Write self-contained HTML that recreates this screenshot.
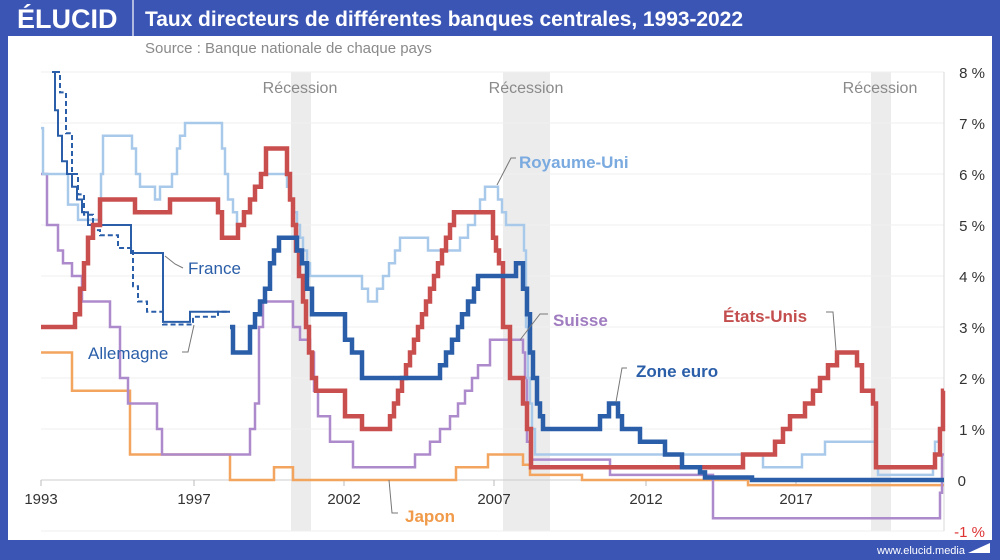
<!DOCTYPE html>
<html><head><meta charset="utf-8">
<style>
html,body{margin:0;padding:0;background:#3b55b5;}
body{width:1000px;height:560px;overflow:hidden;position:relative;font-family:"Liberation Sans",sans-serif;}
</style></head>
<body>
<svg width="1000" height="560" xmlns="http://www.w3.org/2000/svg" style="position:absolute;left:0;top:0">
<rect x="0" y="0" width="1000" height="560" fill="#3b55b5"/>
<rect x="8" y="36" width="984" height="504" fill="#ffffff"/>
<text x="17" y="28" fill="#fff" font-size="27" font-weight="bold" font-family="Liberation Sans,sans-serif">ÉLUCID</text>
<line x1="133" y1="0" x2="133" y2="36" stroke="#ffffff" stroke-width="1.5" opacity="0.8"/>
<text x="145" y="26" fill="#fff" font-size="21" font-weight="bold" textLength="598" font-family="Liberation Sans,sans-serif">Taux directeurs de différentes banques centrales, 1993-2022</text>
<text x="145" y="53" fill="#8a8a8a" font-size="15" font-family="Liberation Sans,sans-serif">Source : Banque nationale de chaque pays</text>
<text x="965" y="554" fill="#fff" font-size="11" text-anchor="end" font-family="Liberation Sans,sans-serif">www.elucid.media</text>
<polygon points="968,553 990,543 990,553" fill="#fff"/>
<rect x="291" y="72" width="20" height="459" fill="#ececec"/>
<rect x="503" y="72" width="47" height="459" fill="#ececec"/>
<rect x="871" y="72" width="20" height="459" fill="#ececec"/>
<g font-size="16" fill="#8a8a8a" text-anchor="middle" font-family="Liberation Sans,sans-serif">
<text x="300" y="93">Récession</text><text x="526" y="93">Récession</text><text x="880" y="93">Récession</text>
</g>
<g id="grid" stroke="#efefef" stroke-width="1"></g>
<line x1="41" y1="480" x2="944" y2="480" stroke="#cccccc"/>
<line x1="944" y1="72" x2="944" y2="531" stroke="#d8d8d8"/>
<g id="ticks" stroke="#bbb"></g>
<g font-size="15" fill="#333" text-anchor="middle" font-family="Liberation Sans,sans-serif">
<text x="41" y="504">1993</text><text x="194" y="504">1997</text><text x="344" y="504">2002</text><text x="494" y="504">2007</text><text x="646" y="504">2012</text><text x="796" y="504">2017</text>
</g>
<g id="ylab" font-size="15" fill="#333" text-anchor="end" font-family="Liberation Sans,sans-serif"></g>
<g id="series" fill="none" stroke-linejoin="miter"></g>
<g stroke="#777" stroke-width="1" fill="none">
<polyline points="516,158 511,158 497,185"/>
<polyline points="183,268 175,264 165,256"/>
<polyline points="182,352 188,352 194,325"/>
<polyline points="548,314 540,314 520,340"/>
<polyline points="826,312 833,312 836,350"/>
<polyline points="627,368 622,368 616,402"/>
<polyline points="398,513 392,513 389,480"/>
</g>
<g font-size="17" font-family="Liberation Sans,sans-serif">
<text x="519" y="168" fill="#7aaadf" font-weight="bold">Royaume-Uni</text>
<text x="188" y="274" fill="#2a5ea8">France</text>
<text x="88" y="359" fill="#2a5ea8">Allemagne</text>
<text x="553" y="326" fill="#a07cc0" font-weight="bold">Suisse</text>
<text x="723" y="322" fill="#c44e4e" font-weight="bold">États-Unis</text>
<text x="636" y="377" fill="#2a5ea8" font-weight="bold">Zone euro</text>
<text x="405" y="522" fill="#f09a4a" font-weight="bold">Japon</text>
</g>
</svg>
<script>
const NS="http://www.w3.org/2000/svg";
const Y=r=>480-51*r;
const g=document.getElementById('grid'),yl=document.getElementById('ylab'),tk=document.getElementById('ticks');
for(let r=-1;r<=8;r++){
 if(r!==0){const l=document.createElementNS(NS,'line');l.setAttribute('x1',41);l.setAttribute('x2',944);l.setAttribute('y1',Y(r));l.setAttribute('y2',Y(r));g.appendChild(l);}
 const t=document.createElementNS(NS,'text');t.setAttribute('x',985);t.setAttribute('y',Y(r)+6);
 t.textContent=r===0?'0':(r+' %');if(r===-1)t.setAttribute('fill','#d33');if(r===0)t.setAttribute('x',966);
 yl.appendChild(t);
}
[41,194,344,494,646,796].forEach(x=>{const l=document.createElementNS(NS,'line');l.setAttribute('x1',x);l.setAttribute('x2',x);l.setAttribute('y1',480);l.setAttribute('y2',486);tk.appendChild(l);});
function step(pts,end){let d='';for(let i=0;i<pts.length;i++){const [x,r]=pts[i];const y=Math.max(72,Y(r));if(i===0)d+='M'+x+' '+y;else d+='H'+x+'V'+y;}d+='H'+end;return d;}
function add(pts,end,color,w,dash){const p=document.createElementNS(NS,'path');p.setAttribute('d',step(pts,end));p.setAttribute('stroke',color);p.setAttribute('stroke-width',w);if(dash)p.setAttribute('stroke-dasharray',dash);document.getElementById('series').appendChild(p);}
const uk=[[41,6.9],[43,6.0],[68,5.4],[78,5.1],[101,6.0],[103,6.75],[132,6.5],[136,6.0],[140,5.75],[155,5.5],[160,5.75],[172,6.0],[177,6.5],[180,6.75],[185,7.0],[222,6.5],[225,6.0],[228,5.5],[233,5.25],[237,5.0],[243,5.25],[250,5.5],[255,5.75],[260,6.0],[287,5.75],[290,5.5],[293,5.25],[297,5.0],[300,4.75],[303,4.5],[307,4.25],[310,4.0],[362,3.75],[368,3.5],[377,3.75],[383,4.0],[389,4.25],[395,4.5],[400,4.75],[428,4.5],[460,4.75],[468,5.0],[475,5.25],[480,5.5],[485,5.75],[498,5.5],[502,5.25],[506,5.0],[524,4.5],[526,3.0],[528,2.0],[530,1.5],[532,1.0],[535,0.5],[763,0.25],[802,0.5],[825,0.75],[875,0.25],[878,0.1],[933,0.25],[935,0.75],[939,1.0],[942,1.25]];
const ch=[[41,6.0],[47,5.0],[58,4.5],[63,4.25],[72,4.0],[82,3.5],[110,3.0],[120,2.0],[128,1.5],[157,1.0],[162,0.5],[250,1.0],[255,1.5],[259,3.0],[263,3.5],[293,3.0],[300,2.75],[310,2.5],[314,1.75],[318,1.25],[330,0.75],[353,0.25],[415,0.5],[430,0.75],[440,1.0],[450,1.25],[458,1.5],[465,1.75],[472,2.0],[478,2.25],[490,2.75],[523,2.5],[525,2.0],[527,0.75],[530,0.4],[610,0.1],[713,-0.75],[940,-0.25],[942,0.5]];
const jp=[[41,2.5],[72,1.75],[130,0.5],[230,0.0],[274,0.25],[293,0.0],[456,0.25],[488,0.5],[523,0.3],[530,0.1],[582,0.0],[748,-0.1]];
const fr=[[52,8.5],[55,7.25],[58,6.75],[62,6.25],[67,6.0],[72,5.75],[77,5.5],[82,5.25],[88,5.0],[131,4.45],[163,3.1],[190,3.3],[230,3.3]];
const de=[[55,8.25],[60,7.6],[66,6.8],[72,6.0],[78,5.6],[84,5.2],[93,4.9],[100,4.8],[118,4.55],[133,3.8],[138,3.5],[147,3.3],[163,3.05],[193,3.2],[218,3.3],[230,3.3]];
const us=[[41,3.0],[75,3.25],[80,3.75],[84,4.25],[88,4.75],[93,5.0],[100,5.5],[135,5.25],[170,5.5],[218,5.25],[222,4.75],[238,5.0],[244,5.25],[250,5.5],[255,5.75],[261,6.0],[266,6.5],[287,6.0],[290,5.5],[293,5.0],[296,4.5],[299,4.0],[303,3.5],[306,3.0],[309,2.5],[312,2.0],[316,1.75],[345,1.25],[362,1.0],[390,1.25],[394,1.5],[398,1.75],[402,2.0],[406,2.25],[410,2.5],[414,2.75],[418,3.0],[422,3.25],[426,3.5],[430,3.75],[434,4.0],[438,4.25],[442,4.5],[446,4.75],[450,5.0],[454,5.25],[493,4.75],[496,4.5],[499,4.25],[503,3.0],[510,2.0],[523,1.5],[527,1.0],[531,0.25],[743,0.5],[775,0.75],[783,1.0],[790,1.25],[805,1.5],[813,1.75],[820,2.0],[828,2.25],[837,2.5],[857,2.25],[862,1.75],[873,1.5],[876,0.25],[935,0.5],[940,1.0],[943,1.75]];
const eu=[[230,3.0],[233,2.5],[250,3.0],[255,3.25],[260,3.5],[265,3.75],[270,4.25],[274,4.5],[279,4.75],[297,4.5],[302,4.25],[307,3.75],[312,3.25],[345,2.75],[352,2.5],[362,2.0],[440,2.25],[446,2.5],[452,2.75],[458,3.0],[462,3.25],[468,3.5],[474,3.75],[478,4.0],[516,4.25],[523,3.75],[527,3.25],[530,2.5],[533,2.0],[537,1.5],[540,1.25],[543,1.0],[600,1.25],[609,1.5],[618,1.25],[622,1.0],[640,0.75],[665,0.5],[682,0.25],[700,0.15],[705,0.05],[752,0.0]];
add(jp,944,'#f3a45e',2.5);
add(ch,944,'#ad8acb',2.5);
add(uk,944,'#a9c9ea',2.5);
add(de,230,'#2a5ea8',2,'5,3');
add(fr,230,'#2a5ea8',2);
add(us,944,'#c94f4f',4.5);
add(eu,944,'#2a5ea8',4.5);
</script>
</body></html>
